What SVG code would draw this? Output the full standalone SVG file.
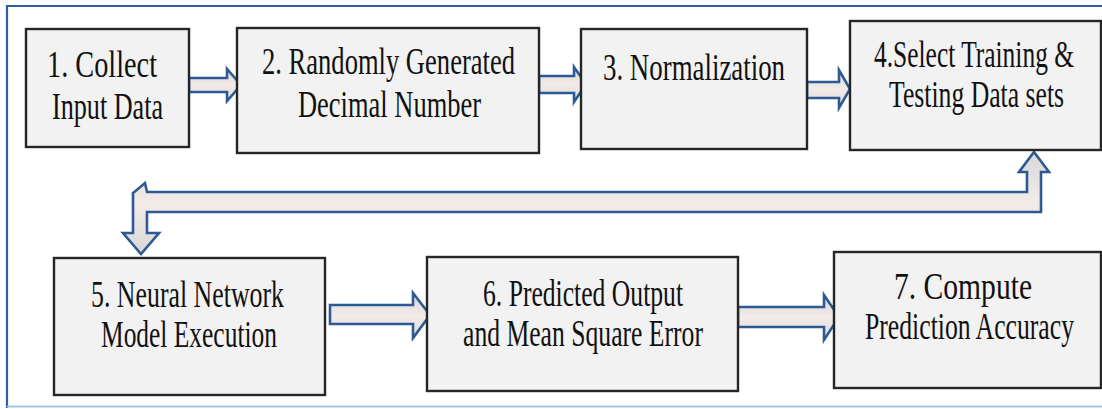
<svg xmlns="http://www.w3.org/2000/svg" width="1102" height="409" viewBox="0 0 1102 409">
  <style>
    .box { fill: #f2f2f2; stroke: #262626; stroke-width: 2.4; }
    .lbl { font-family: "Liberation Serif", "Times New Roman", serif; font-size: 37px; fill: #111; }
    .arrow { fill: url(#shaftH); stroke: #2c5a94; stroke-width: 2.6; stroke-linejoin: miter; }
  </style>
  <defs>
    <linearGradient id="shaftH" x1="0" y1="0" x2="0" y2="1">
      <stop offset="0" stop-color="#d8d8d8"/>
      <stop offset="0.5" stop-color="#f3ebe8"/>
      <stop offset="1" stop-color="#d8d8d8"/>
    </linearGradient>
  </defs>

  <rect width="1102" height="409" fill="#ffffff"/>

  <!-- outer frame -->
  <g id="frame" fill="none">
    <path d="M7,408 V6 H1102" stroke="#2f5e9c" stroke-width="2.2"/>
    <line x1="7" y1="406.5" x2="1102" y2="406.5" stroke="#a3c6e2" stroke-width="2.2"/>
  </g>

  <!-- connectors: block arrows -->
  <g id="connectors">
    <polygon class="arrow" points="189,78 227,78 227,69 241,85 227,101 227,92 189,92"/>
    <polygon class="arrow" points="539,76 574,76 574,67 586,84 574,102 574,93 539,93"/>
    <polygon class="arrow" points="807,82 839,82 839,70 850,89 839,108 839,98 807,98"/>
    <polygon class="arrow" points="1034,152 1049,172 1041,172 1041,212 147,212 147,233 159,233 141,254 123,233 133,233 133,193 145,183 147,192 1027,192 1027,172 1019,172"/>
    <polygon class="arrow" points="330,305 413,305 413,293 430,315 413,338 413,324 330,324"/>
    <polygon class="arrow" points="738,307 824,307 824,295 839,317 824,340 824,327 738,327"/>
  </g>

  <!-- labels are set in a narrowed serif: scale(0.72,1) plus a fitted length -->
  <g id="n1">
    <rect class="box" x="26" y="29" width="163" height="118"/>
    <text class="lbl" transform="translate(47,77) scale(0.72,1)" textLength="152.8" lengthAdjust="spacingAndGlyphs">1. Collect</text>
    <text class="lbl" transform="translate(52,119) scale(0.72,1)" textLength="154.2" lengthAdjust="spacingAndGlyphs">Input Data</text>
  </g>

  <g id="n2">
    <rect class="box" x="237" y="28" width="302" height="125"/>
    <text class="lbl" transform="translate(262,74) scale(0.72,1)" textLength="351.4" lengthAdjust="spacingAndGlyphs">2. Randomly Generated</text>
    <text class="lbl" transform="translate(298,117) scale(0.72,1)" textLength="254.2" lengthAdjust="spacingAndGlyphs">Decimal Number</text>
  </g>

  <g id="n3">
    <rect class="box" x="581" y="29" width="226" height="120"/>
    <text class="lbl" transform="translate(603,80) scale(0.72,1)" textLength="252.8" lengthAdjust="spacingAndGlyphs">3. Normalization</text>
  </g>

  <g id="n4">
    <rect class="box" x="850" y="21" width="251" height="129"/>
    <text class="lbl" transform="translate(874,67) scale(0.72,1)" textLength="277.8" lengthAdjust="spacingAndGlyphs">4.Select Training &amp;</text>
    <text class="lbl" transform="translate(889,107) scale(0.72,1)" textLength="243.1" lengthAdjust="spacingAndGlyphs">Testing Data sets</text>
  </g>

  <g id="n5">
    <rect class="box" x="54" y="258" width="271" height="137"/>
    <text class="lbl" transform="translate(91,307) scale(0.72,1)" textLength="268.1" lengthAdjust="spacingAndGlyphs">5. Neural Network</text>
    <text class="lbl" transform="translate(101,347) scale(0.72,1)" textLength="244.4" lengthAdjust="spacingAndGlyphs">Model Execution</text>
  </g>

  <g id="n6">
    <rect class="box" x="427" y="257" width="311" height="134"/>
    <text class="lbl" transform="translate(483,306) scale(0.72,1)" textLength="277.8" lengthAdjust="spacingAndGlyphs">6. Predicted Output</text>
    <text class="lbl" transform="translate(463,346) scale(0.72,1)" textLength="333.3" lengthAdjust="spacingAndGlyphs">and Mean Square Error</text>
  </g>

  <g id="n7">
    <rect class="box" x="834" y="252" width="267" height="136"/>
    <text class="lbl" transform="translate(894,299) scale(0.72,1)" textLength="191.7" lengthAdjust="spacingAndGlyphs">7. Compute</text>
    <text class="lbl" transform="translate(865,339) scale(0.72,1)" textLength="290.3" lengthAdjust="spacingAndGlyphs">Prediction Accuracy</text>
  </g>
</svg>
